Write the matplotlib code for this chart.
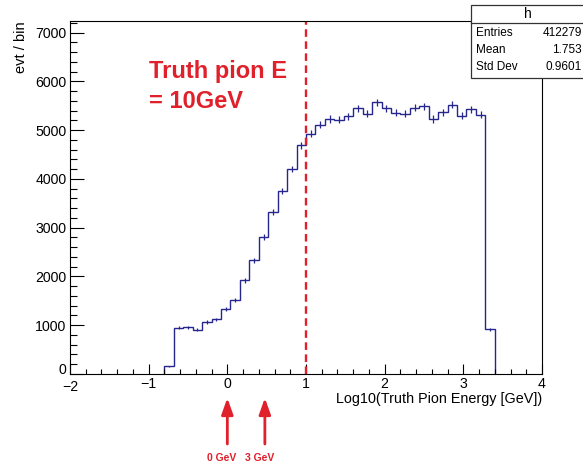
import matplotlib
matplotlib.use("Agg")
import matplotlib.pyplot as plt
import matplotlib.transforms as mtrans
import numpy as np
from matplotlib.patches import Rectangle
from matplotlib.lines import Line2D

plt.rcParams["font.family"] = ["Liberation Sans", "DejaVu Sans"]

# histogram "h": 50 bins on [-2, 4], only bins from -0.8 to 3.4 are filled
bin_lo = -0.8
bin_width = 0.12
counts = [160, 950, 955, 910, 1065, 1120, 1330, 1525, 1920, 2330,
          2810, 3320, 3750, 4210, 4690, 4930, 5110, 5230, 5210, 5290,
          5450, 5340, 5570, 5450, 5360, 5340, 5460, 5490, 5230, 5370,
          5520, 5300, 5425, 5320, 920]

stats_rows = [("Entries", "412279"), ("Mean", "1.753"), ("Std Dev", "0.9601")]
truth_E = 10.0            # GeV, marked by the dashed line (log10)
arrow_E = [1.0, 3.0]      # GeV, arrows below the axis
arrow_labels = ["0 GeV", "3 GeV"]

red = "#e0202a"
navy = "#26268c"

counts = np.array(counts, dtype=float)
edges = bin_lo + bin_width * np.arange(len(counts) + 1)
centers = 0.5 * (edges[:-1] + edges[1:])

W, H = 583, 462
fig = plt.figure(figsize=(W / 100, H / 100), dpi=100)
ax = fig.add_axes([70 / W, (H - 374) / H, 472 / W, 353 / H])

ax.stairs(counts, edges, baseline=0, color=navy, lw=1.0)
ax.errorbar(centers, counts, yerr=np.sqrt(counts), fmt="none", ecolor=navy, elinewidth=0.9)

ax.axvline(np.log10(truth_E), color=red, lw=1.7, linestyle=(0, (3.2, 1.9)))

ax.set_xlim(-2, 4)
ax.set_ylim(0, 7240)
ax.set_xticks(np.arange(-2, 5, 1))
ax.set_xticks(np.arange(-2, 4.01, 0.2), minor=True)
ax.set_yticks(np.arange(0, 7001, 1000))
ax.set_yticks(np.arange(0, 7201, 200), minor=True)
ax.tick_params(axis="both", which="both", direction="in", labelsize=10.2, pad=2.5,
               top=False, right=False)
ax.tick_params(axis="x", which="major", length=7.5, width=0.8)
ax.tick_params(axis="x", which="minor", length=3.8, width=0.8)
ax.tick_params(axis="y", which="major", length=10, width=0.8)
ax.tick_params(axis="y", which="minor", length=5, width=0.8)
for s in ax.spines.values():
    s.set_linewidth(0.8)

# the "0" of the y axis sits a little higher, the "-2" a little lower (ROOT style)
fig.canvas.draw()
ylab0 = ax.yaxis.get_major_ticks()[0].label1
ylab0.set_transform(ylab0.get_transform() + mtrans.ScaledTranslation(0, 4 / 72, fig.dpi_scale_trans))
xlab0 = ax.xaxis.get_major_ticks()[0].label1
xlab0.set_transform(xlab0.get_transform() + mtrans.ScaledTranslation(0, -2 / 72, fig.dpi_scale_trans))

ax.set_xlabel("Log10(Truth Pion Energy [GeV])", fontsize=10.4, loc="right")
ax.xaxis.set_label_coords(1.0, -0.05)
ax.set_ylabel("evt / bin", fontsize=10.5, loc="top")
ax.yaxis.set_label_coords(-0.09, 1.0)

ax.text(-1.0, 6070, "Truth pion E", color=red, fontsize=17, fontweight="bold",
        ha="left", va="baseline")
ax.text(-1.0, 5456, "= 10GeV", color=red, fontsize=17, fontweight="bold",
        ha="left", va="baseline")

# arrows below the x axis
for e, lab in zip(arrow_E, arrow_labels):
    xe = np.log10(e)
    ax.annotate("", xy=(xe, H - 398), xytext=(xe, H - 444),
                xycoords=("data", "figure pixels"), textcoords=("data", "figure pixels"),
                arrowprops=dict(arrowstyle="-|>,head_length=0.7,head_width=0.25",
                                color=red, lw=2.0, mutation_scale=14, shrinkA=0, shrinkB=0),
                annotation_clip=False)
    ax.annotate(lab, xy=(xe, H - 458), xycoords=("data", "figure pixels"),
                xytext=(-4, 0), textcoords="offset points",
                ha="center", va="center", color=red, fontsize=7.5, fontweight="bold",
                annotation_clip=False)

# stats box
bx0, by0, bx1, by1 = 470.5, H - 77.5, 590, H - 5
fig.patches.append(Rectangle((bx0, by0), bx1 - bx0, by1 - by0, transform=None,
                             facecolor="white", edgecolor="#333333", lw=0.9, zorder=10))
fig.lines.append(Line2D([bx0, bx1], [H - 22.7, H - 22.7], transform=None,
                        color="#333333", lw=0.9, zorder=11))
fig.text(528 / W, 1 - 14 / H, "h", ha="center", va="center", fontsize=10, zorder=12)
for i, (k, v) in enumerate(stats_rows):
    yy = 1 - (33 + 17 * i) / H
    fig.text(476 / W, yy, k, ha="left", va="center", fontsize=8.5, zorder=12)
    fig.text(582 / W, yy, v, ha="right", va="center", fontsize=8.5, zorder=12)

fig.savefig("out.png", dpi=100)
